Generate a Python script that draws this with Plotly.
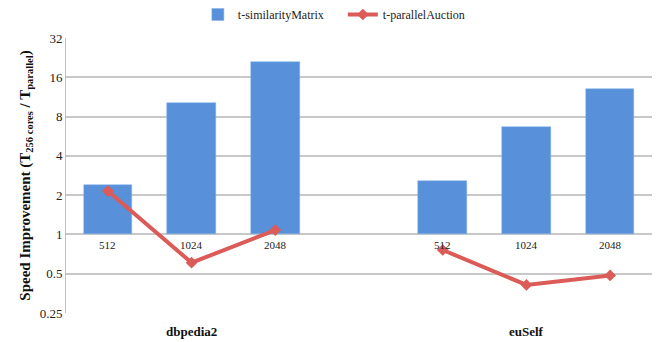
import plotly.graph_objects as go
import math

categories = ["512", "1024", "2048", "", "512", "1024", "2048"]
groups = ["dbpedia2", "euSelf"]
similarity_matrix = [2.4, 10.1, 20.8, None, 2.56, 6.7, 12.9]
parallel_auction = [2.15, 0.607, 1.08, None, 0.76, 0.41, 0.485]
y_ticks = [0.25, 0.5, 1, 2, 4, 8, 16, 32]

FONT = "'Liberation Serif', 'DejaVu Serif', serif"
x = list(range(len(categories)))

fig = go.Figure()
fig.add_trace(go.Bar(
    x=x, y=[None if v is None else v - 1 for v in similarity_matrix], base=1,
    name="t-similarityMatrix", width=0.58,
    marker=dict(color="#5890d9", line=dict(width=0.5, color="#7fb0ee")),
))
xs_a = [xi for xi, v in zip(x, parallel_auction) if v is not None]
ys_a = [v for v in parallel_auction if v is not None]
fig.add_trace(go.Scatter(
    x=xs_a[:3], y=ys_a[:3], mode="lines+markers", name="t-parallelAuction",
    line=dict(color="#db5b58", width=4),
    marker=dict(symbol="diamond", size=9, color="#db5b58"),
    legendgroup="pa",
))
fig.add_trace(go.Scatter(
    x=xs_a[3:], y=ys_a[3:], mode="lines+markers", name="t-parallelAuction",
    line=dict(color="#db5b58", width=4),
    marker=dict(symbol="diamond", size=9, color="#db5b58"),
    legendgroup="pa", showlegend=False,
))

for xi, c in zip(x, categories):
    if c:
        fig.add_annotation(x=xi, y=0, xref="x", yref="y", text=c, showarrow=False,
                           yanchor="top", yshift=-3, font=dict(family=FONT, size=11, color="#222"))
for gi, g in enumerate(groups):
    fig.add_annotation(x=1 + gi * 4, y=0, xref="x", yref="paper", text="<b>" + g + "</b>",
                       showarrow=False, yanchor="top", yshift=-9,
                       font=dict(family=FONT, size=13, color="#111"))

fig.update_layout(
    width=659, height=342,
    margin=dict(l=66, r=7, t=37.5, b=29, autoexpand=False),
    plot_bgcolor="white", paper_bgcolor="white",
    font=dict(family=FONT, size=13, color="#222"),
    showlegend=True,
    legend=dict(orientation="h", x=0.225, xanchor="left", y=1.0, yref="container", yanchor="top",
                font=dict(family=FONT, size=12, color="#222"), traceorder="normal",
                entrywidth=100, entrywidthmode="pixels"),
    bargap=0,
)
fig.update_xaxes(range=[-0.5, 6.5], showticklabels=False, showgrid=False, zeroline=False,
                 showline=False, ticks="")
fig.update_yaxes(type="log", range=[math.log10(0.25), math.log10(32)],
                 tickvals=y_ticks, ticktext=[str(v) for v in y_ticks],
                 showgrid=True, gridcolor="#c8c8c8", gridwidth=1.5,
                 showline=True, linecolor="#bdbdbd", linewidth=1, ticks="",
                 tickfont=dict(family=FONT, size=13, color="#222"),
                 title=dict(text="<b>Speed Improvement (T<sub>256 cores</sub> / T<sub>parallel</sub>)</b>",
                            font=dict(family=FONT, size=15, color="#111"), standoff=5),
                 zeroline=False)

fig.write_html("out.html")
